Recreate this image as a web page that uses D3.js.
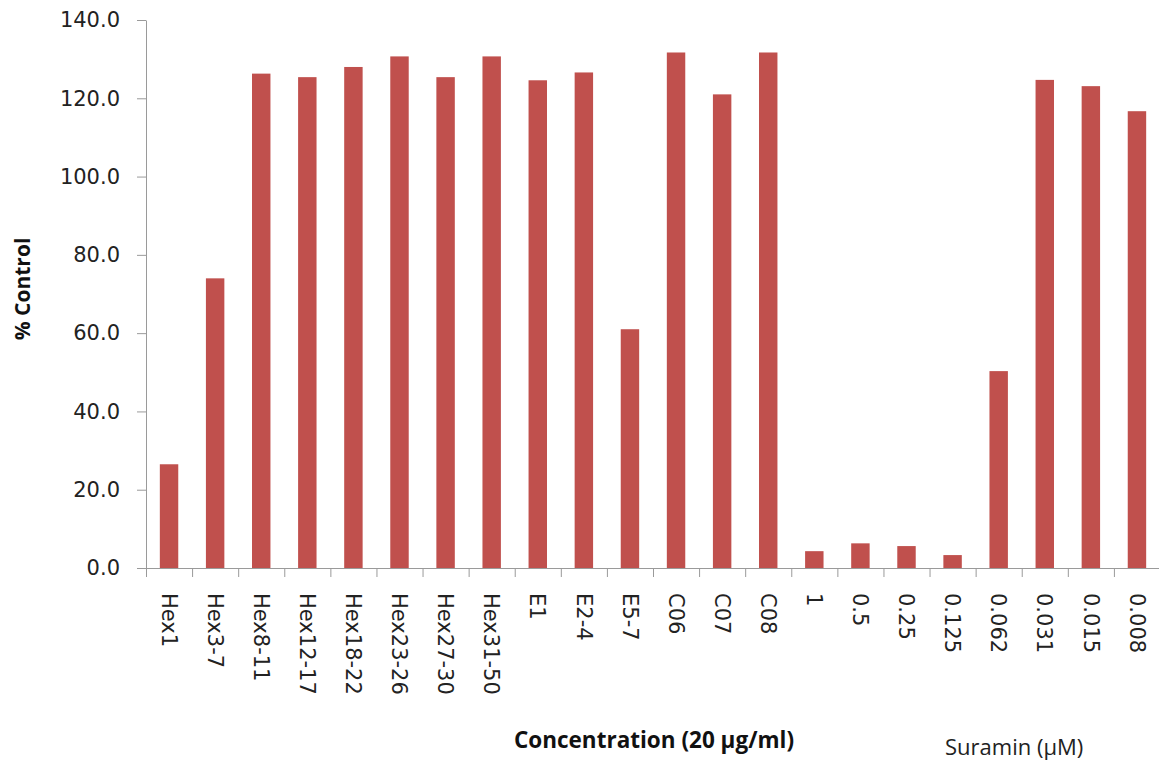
<!DOCTYPE html>
<html>
<head>
<meta charset="utf-8">
<script src="https://cdn.jsdelivr.net/npm/d3@7"></script>
<style>
  html, body { margin: 0; padding: 0; background: #fff; }
  svg { display: block; }
</style>
</head>
<body>
<svg id="chart" width="1159" height="763"></svg>
<script>
const categories = ["Hex1","Hex3-7","Hex8-11","Hex12-17","Hex18-22","Hex23-26","Hex27-30","Hex31-50","E1","E2-4","E5-7","C06","C07","C08","1","0.5","0.25","0.125","0.062","0.031","0.015","0.008"];
const values = [26.5, 74.0, 126.3, 125.4, 128.0, 130.7, 125.4, 130.7, 124.6, 126.6, 61.0, 131.7, 121.0, 131.7, 4.3, 6.3, 5.6, 3.3, 50.3, 124.7, 123.1, 116.7];
const yTicks = [0, 20, 40, 60, 80, 100, 120, 140];
const yLabel = "% Control";
const xTitle = "Concentration (20 µg/ml)";
const xTitle2 = "Suramin (µM)";

(function () {
const svg = d3.select("#chart");
const mLeft = 146, mRight = 1160, mTop = 20, mBottom = 568;
const axisColor = "#9a9a9a";

const x = d3.scaleBand().domain(categories).range([mLeft, mRight]).paddingInner(0.6).paddingOuter(0.3);
const y = d3.scaleLinear().domain([0, 140]).range([mBottom, mTop]);
const xb = d3.scaleLinear().domain([0, categories.length]).range([mLeft, mRight]);

// bars
svg.append("g").selectAll("rect").data(categories).join("rect")
  .attr("x", d => x(d))
  .attr("width", x.bandwidth())
  .attr("y", (d, i) => y(values[i]))
  .attr("height", (d, i) => y(0) - y(values[i]))
  .attr("fill", "#c0504d");

// y axis
const gy = svg.append("g").attr("transform", `translate(${mLeft},0)`)
  .call(d3.axisLeft(y).tickValues(yTicks).tickFormat(d3.format(".1f")).tickSize(9).tickSizeOuter(0).tickPadding(17));
gy.select(".domain").attr("stroke", axisColor);
gy.selectAll(".tick line").attr("stroke", axisColor);
gy.selectAll(".tick text").attr("font-family", "DejaVu Sans").attr("font-size", 21).attr("fill", "#222");

// x axis boundary ticks
const gxb = svg.append("g").attr("transform", `translate(0,${mBottom})`)
  .call(d3.axisBottom(xb).tickValues(d3.range(categories.length + 1)).tickFormat("").tickSize(9).tickSizeOuter(0));
gxb.select(".domain").attr("stroke", axisColor);
gxb.selectAll(".tick line").attr("stroke", axisColor);

// x labels
const gx = svg.append("g").attr("transform", `translate(0,${mBottom})`)
  .call(d3.axisBottom(x).tickSize(0).tickPadding(0));
gx.select(".domain").remove();
gx.selectAll(".tick text")
  .attr("font-family", "DejaVu Sans").attr("font-size", 21).attr("fill", "#222")
  .attr("transform", "rotate(90)")
  .attr("text-anchor", "start")
  .attr("x", 25).attr("y", 0).attr("dy", "0.35em");

// y label
svg.append("text")
  .attr("transform", "translate(30,289) rotate(-90)")
  .attr("text-anchor", "middle")
  .attr("font-family", "Open Sans").attr("font-weight", "bold").attr("font-size", 21)
  .attr("fill", "#111")
  .text(yLabel);

// x titles
svg.append("text")
  .attr("x", 654).attr("y", 748)
  .attr("text-anchor", "middle")
  .attr("font-family", "Open Sans").attr("font-weight", "bold").attr("font-size", 22.5)
  .attr("fill", "#111")
  .text(xTitle);

svg.append("text")
  .attr("x", 945).attr("y", 755)
  .attr("text-anchor", "start")
  .attr("font-family", "Open Sans").attr("font-size", 22)
  .attr("fill", "#222")
  .text(xTitle2);
})();
</script>
</body>
</html>
